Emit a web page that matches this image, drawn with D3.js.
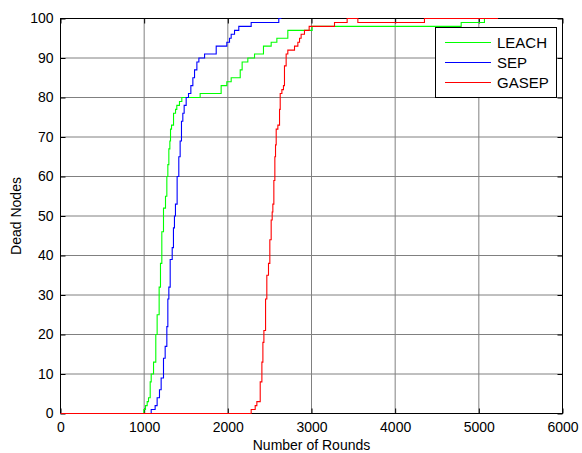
<!DOCTYPE html>
<html><head><meta charset="utf-8">
<script src="https://cdn.jsdelivr.net/npm/d3@7"></script>
<style>body{margin:0;background:#fff}text{font-family:"Liberation Sans",Arial,sans-serif}</style>
</head><body><svg id="c" width="582" height="453"></svg>
<script>
const xTicks = [0,1000,2000,3000,4000,5000,6000];
const yTicks = [0,10,20,30,40,50,60,70,80,90,100];
const seriesNames = ["LEACH","SEP","GASEP"];
const leachRounds = [0,996,1016,1036,1052,1072,1084,1112,1139,1155,1179,1195,1211,1231,1255,1271,1283,1295,1307,1315,1327,1351,1375,1390,1422,1450,1669,1920,1988,2040,2148,2171,2239,2319,2426,2518,2586,2717,3008,4789,5067,5100];
const leachDead   = [0,1,2,3,4,8,10,13,20,25,32,38,46,52,55,60,63,67,69,72,73,76,77,78,79,80,81,83,84,85,87,89,90,91,93,94,95,97,98,99,100,100];
const sepRounds = [0,1084,1131,1155,1183,1203,1231,1251,1271,1283,1295,1311,1335,1350,1362,1374,1394,1414,1430,1446,1462,1478,1502,1530,1558,1582,1602,1630,1654,1722,1861,1988,2020,2040,2080,2131,2279,2609,2640];
const sepDead   = [0,1,2,4,6,9,14,17,22,29,32,39,42,47,50,53,60,65,69,74,76,78,80,81,83,85,87,89,90,91,93,94,95,96,97,98,99,100,100];
const gasepRounds = [0,2279,2327,2347,2387,2407,2419,2431,2451,2466,2486,2502,2518,2530,2538,2550,2562,2570,2578,2598,2618,2626,2646,2665,2677,2697,2717,2797,2837,2857,2876,2916,2972,3275,3426,3554,4350,5230];
const gasepDead   = [0,1,2,3,8,13,18,21,29,35,38,44,49,51,53,59,65,68,72,73,77,81,82,83,88,91,92,93,94,95,96,97,98,99,100,99,100,100];
const colors = ["#00ff00","#0000ff","#ff0000"];

const svg = d3.select("#c");
const x = d3.scaleLinear().domain([0,6000]).range([60.5,562.5]);
const y = d3.scaleLinear().domain([0,100]).range([413.5,18.5]);
const fs = 14;

// grid
const g = svg.append("g");
g.selectAll(".gx").data(xTicks.slice(1,-1)).join("line")
  .attr("x1",d=>x(d)).attr("x2",d=>x(d)).attr("y1",y(0)).attr("y2",y(100))
  .attr("stroke","#808080").attr("stroke-width",1);
g.selectAll(".gy").data(yTicks.slice(1,-1)).join("line")
  .attr("y1",d=>y(d)).attr("y2",d=>y(d)).attr("x1",x(0)).attr("x2",x(6000))
  .attr("stroke","#808080").attr("stroke-width",1);

// axes with inward ticks
const ax = svg.append("g");
ax.append("g").attr("transform",`translate(0,${y(0)})`)
  .call(d3.axisBottom(x).tickValues(xTicks).tickSize(-5).tickPadding(9).tickFormat(d3.format("d")))
  .call(s=>{s.select(".domain").remove();s.selectAll("text").attr("font-size",fs).attr("fill","#000").style("font-family","Liberation Sans, Arial");});
ax.append("g").attr("transform",`translate(${x(0)},0)`)
  .call(d3.axisLeft(y).tickValues(yTicks).tickSize(-5).tickPadding(7).tickFormat(d3.format("d")))
  .call(s=>{s.select(".domain").remove();s.selectAll("text").attr("font-size",fs).attr("fill","#000").style("font-family","Liberation Sans, Arial");});
ax.append("g").attr("transform",`translate(0,${y(100)})`)
  .call(d3.axisTop(x).tickValues(xTicks).tickSize(-5).tickFormat(""))
  .call(s=>s.select(".domain").remove());
ax.append("g").attr("transform",`translate(${x(6000)},0)`)
  .call(d3.axisRight(y).tickValues(yTicks).tickSize(-5).tickFormat(""))
  .call(s=>s.select(".domain").remove());
svg.append("rect").attr("x",x(0)).attr("y",y(100)).attr("width",x(6000)-x(0)).attr("height",y(0)-y(100))
  .attr("fill","none").attr("stroke","#000").attr("stroke-width",1);

// lines
const seriesData = [
  leachRounds.map((r,i)=>[r,leachDead[i]]),
  sepRounds.map((r,i)=>[r,sepDead[i]]),
  gasepRounds.map((r,i)=>[r,gasepDead[i]])
];
const line = d3.line().x(d=>x(d[0])).y(d=>y(d[1])).curve(d3.curveStepAfter);
seriesData.forEach((s,i)=>{
  svg.append("path").attr("d",line(s)).attr("fill","none").attr("stroke",colors[i]).attr("stroke-width",1.1);
});

// axis titles
svg.append("text").attr("x",(x(0)+x(6000))/2).attr("y",450).attr("text-anchor","middle").attr("font-size",fs).text("Number of Rounds");
svg.append("text").attr("transform",`translate(21,${(y(0)+y(100))/2}) rotate(-90)`).attr("text-anchor","middle").attr("font-size",fs).text("Dead Nodes");

// legend
const lg = svg.append("g");
lg.append("rect").attr("x",435.5).attr("y",27.5).attr("width",121).attr("height",70).attr("fill","#fff").attr("stroke","#000").attr("stroke-width",1);
seriesNames.forEach((n,i)=>{
  const yy = 42 + i*20;
  lg.append("line").attr("x1",445).attr("x2",491).attr("y1",yy+0.5).attr("y2",yy+0.5).attr("stroke",colors[i]).attr("stroke-width",1.1);
  lg.append("text").attr("x",497).attr("y",yy+5.5).attr("font-size",15).text(n);
});
</script></body></html>
